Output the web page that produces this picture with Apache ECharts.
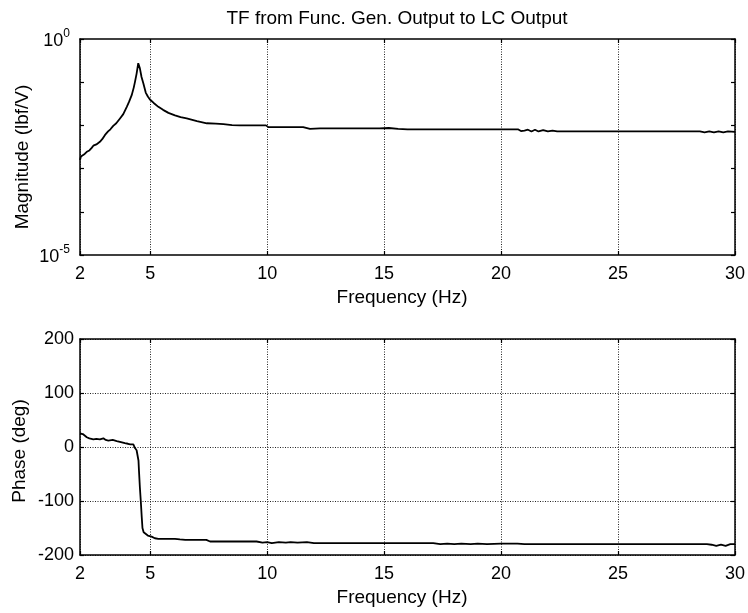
<!DOCTYPE html>
<html><head><meta charset="utf-8">
<script src="https://cdn.jsdelivr.net/npm/echarts@6/dist/echarts.min.js"></script>
<style>html,body{margin:0;padding:0;background:#fff}#c{width:748px;height:613px}</style>
</head><body><div id="c"></div>
<script>
const chartTitle = 'TF from Func. Gen. Output to LC Output';
const xLabel = 'Frequency (Hz)';
const magLabel = 'Magnitude (lbf/V)';
const phaseLabel = 'Phase (deg)';
const xTicks = [2, 5, 10, 15, 20, 25, 30];
const magLabelExps = [0, -5];
const phaseTicks = [-200, -100, 0, 100, 200];

const magFreq = [2.00,2.04,2.10,2.20,2.29,2.40,2.50,2.57,2.70,2.85,2.95,3.07,3.20,3.30,3.42,3.55,3.71,3.85,4.00,4.10,4.21,4.30,4.35,4.42,4.49,4.53,4.56,4.63,4.71,4.81,4.90,4.99,5.15,5.35,5.55,5.78,6.06,6.30,6.56,7.00,7.42,7.80,8.13,8.50,8.84,9.50,9.95,10.05,11.00,11.54,11.83,12.26,13.0,14.0,14.8,15.2,15.6,16.0,18.0,20.0,20.72,20.85,21.0,21.15,21.3,21.45,21.6,21.8,22.0,22.2,22.4,25.0,28.5,28.7,28.9,29.1,29.3,29.5,29.7,30.0];
const magValues = [1.58e-3,1.91e-3,2.00e-3,2.19e-3,2.45e-3,2.63e-3,3.02e-3,3.39e-3,3.63e-3,4.17e-3,4.79e-3,6.03e-3,7.24e-3,8.13e-3,9.77e-3,1.12e-2,1.45e-2,1.82e-2,2.69e-2,3.55e-2,5.01e-2,7.59e-2,0.102,0.158,0.275,0.251,0.209,0.132,9.33e-2,5.75e-2,4.68e-2,3.98e-2,3.31e-2,2.69e-2,2.29e-2,1.95e-2,1.70e-2,1.55e-2,1.45e-2,1.26e-2,1.12e-2,1.10e-2,1.07e-2,1.02e-2,1.00e-2,1.00e-2,1.00e-2,9.12e-3,9.12e-3,9.12e-3,8.32e-3,8.51e-3,8.51e-3,8.51e-3,8.51e-3,8.71e-3,8.32e-3,8.13e-3,8.13e-3,8.13e-3,8.13e-3,7.41e-3,7.59e-3,7.94e-3,7.24e-3,7.94e-3,7.24e-3,7.76e-3,7.24e-3,7.59e-3,7.24e-3,7.24e-3,7.24e-3,6.92e-3,7.24e-3,6.92e-3,7.24e-3,6.92e-3,7.24e-3,7.08e-3];

const phaseFreq = [2.00,2.05,2.12,2.20,2.29,2.40,2.57,2.70,2.85,3.00,3.10,3.21,3.40,3.57,3.75,3.92,4.05,4.15,4.21,4.28,4.35,4.42,4.47,4.50,4.52,4.56,4.60,4.64,4.67,4.72,4.78,4.90,5.06,5.20,5.35,5.70,6.06,6.27,6.50,7.00,7.40,7.56,8.5,9.55,9.8,10.0,10.2,10.5,10.8,11.0,11.3,11.7,12.0,15.0,17.1,17.4,17.7,18.0,18.3,18.7,19.0,19.4,20.0,20.7,21.0,25.0,28.8,29.0,29.2,29.4,29.6,29.8,30.0];
const phaseValues = [25,26,24,21,18,16,14,15,14,16,13,12,13,11,9,7,6,5,4,5,-2,-6,-9,-25,-43,-75,-101,-130,-150,-158,-161,-164,-166,-169,-170,-170,-170,-171,-172,-172,-172,-175,-175,-175,-177,-176,-178,-176,-177,-176,-177,-176,-178,-178,-178,-180,-179,-180,-179,-180,-179,-180,-179,-179,-180,-180,-180,-181,-183,-181,-183,-180,-180];

const FONT = '"Liberation Sans", Arial, Helvetica, sans-serif';
const TICK_FS = 18;
const NAME_FS = 19;
const gridA = { left: 80, top: 39, width: 655, height: 216 };
const gridB = { left: 80, top: 339, width: 655, height: 216 };

const lineStyleAxis = { color: '#000', width: 1.5 };
const dotted = { show: true, lineStyle: { color: '#222', width: 1, type: [1, 1.5] } };

function xAx(grid, pos, main) {
  return {
    gridIndex: grid, type: 'value', min: 2, max: 30, position: pos,
    axisLine: { show: true, onZero: false, lineStyle: lineStyleAxis },
    axisTick: { show: true, inside: true, length: 4, customValues: xTicks, lineStyle: { color: '#000', width: 1.2 } },
    axisLabel: { show: main, customValues: xTicks, margin: 10, color: '#000', fontSize: TICK_FS, fontFamily: FONT },
    splitLine: main ? dotted : { show: false }
  };
}
function yLog(pos, main) {
  return {
    gridIndex: 0, type: 'log', logBase: 10, min: 1e-5, max: 1, interval: 1, position: pos,
    axisLine: { show: true, onZero: false, lineStyle: lineStyleAxis },
    axisTick: { show: true, inside: true, length: 4, lineStyle: { color: '#000', width: 1.2 } },
    minorTick: { show: false },
    axisLabel: {
      show: main, margin: 10, color: '#000', fontFamily: FONT,
      formatter: function (v) {
        const e = Math.round(Math.log10(v));
        return magLabelExps.indexOf(e) >= 0 ? '{b|10}{s|' + e + '}' : '';
      },
      rich: {
        b: { fontSize: TICK_FS, fontFamily: FONT, color: '#000', lineHeight: 23, verticalAlign: 'bottom' },
        s: { fontSize: 12, fontFamily: FONT, color: '#000', lineHeight: 23, verticalAlign: 'top' }
      }
    },
    splitLine: { show: false }
  };
}
function yPhase(pos, main) {
  return {
    gridIndex: 1, type: 'value', min: phaseTicks[0], max: phaseTicks[phaseTicks.length - 1], interval: 100, position: pos,
    axisLine: { show: true, onZero: false, lineStyle: lineStyleAxis },
    axisTick: { show: true, inside: true, length: 4, lineStyle: { color: '#000', width: 1.2 } },
    axisLabel: { show: main, margin: 6, color: '#000', fontSize: TICK_FS, fontFamily: FONT },
    splitLine: main ? dotted : { show: false }
  };
}

const chart = echarts.init(document.getElementById('c'), null, { renderer: 'canvas' });
chart.setOption({
  animation: false,
  backgroundColor: '#fff',
  grid: [gridA, gridB],
  xAxis: [xAx(0, 'bottom', true), xAx(0, 'top', false), xAx(1, 'bottom', true), xAx(1, 'top', false)],
  yAxis: [yLog('left', true), yLog('right', false), yPhase('left', true), yPhase('right', false)],
  series: [
    { type: 'line', xAxisIndex: 0, yAxisIndex: 0, showSymbol: false, symbol: 'none',
      lineStyle: { color: '#000', width: 1.8 }, data: magFreq.map((f, i) => [f, magValues[i]]) },
    { type: 'line', xAxisIndex: 2, yAxisIndex: 2, showSymbol: false, symbol: 'none',
      lineStyle: { color: '#000', width: 1.8 }, data: phaseFreq.map((f, i) => [f, phaseValues[i]]) }
  ],
  graphic: [
    { type: 'text', x: 397, y: 19, style: { text: chartTitle, fontSize: 19, fontFamily: FONT, fill: '#000', align: 'center', verticalAlign: 'middle' } },
    { type: 'text', x: 402, y: 298, style: { text: xLabel, fontSize: NAME_FS, fontFamily: FONT, fill: '#000', align: 'center', verticalAlign: 'middle' } },
    { type: 'text', x: 402, y: 598, style: { text: xLabel, fontSize: NAME_FS, fontFamily: FONT, fill: '#000', align: 'center', verticalAlign: 'middle' } },
    { type: 'text', x: 23, y: 157, rotation: Math.PI / 2, style: { text: magLabel, fontSize: NAME_FS, fontFamily: FONT, fill: '#000', align: 'center', verticalAlign: 'middle' } },
    { type: 'text', x: 20, y: 451, rotation: Math.PI / 2, style: { text: phaseLabel, fontSize: NAME_FS, fontFamily: FONT, fill: '#000', align: 'center', verticalAlign: 'middle' } }
  ]
});
</script></body></html>
